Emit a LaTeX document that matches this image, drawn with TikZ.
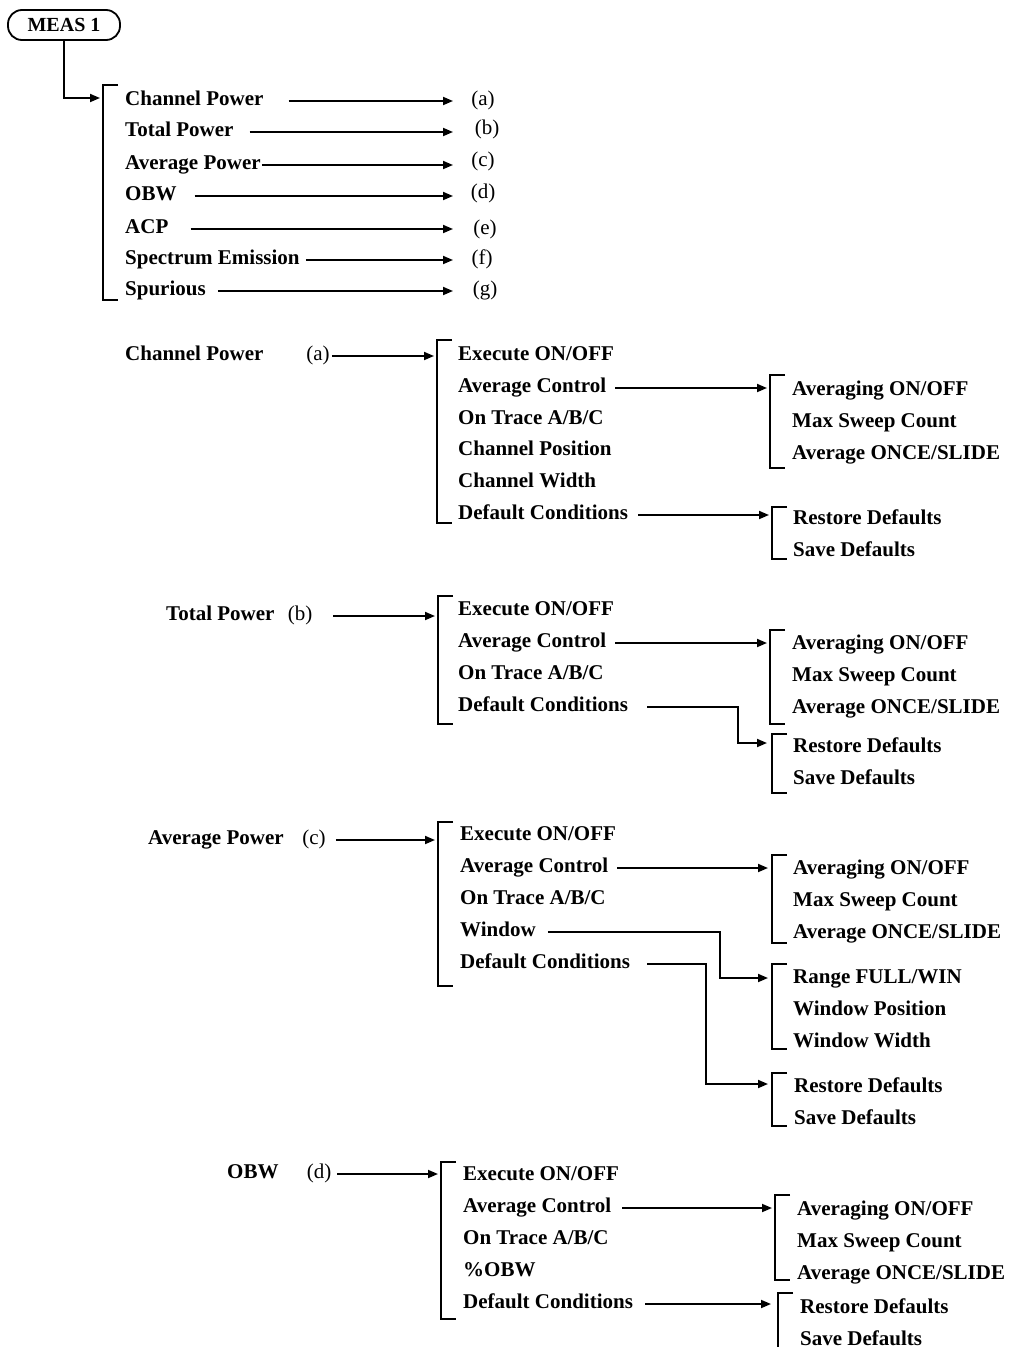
\documentclass[tikz,border=0pt]{standalone}
\usepackage{fontspec}
\setmainfont{Liberation Serif}
\usetikzlibrary{arrows.meta}
\tikzset{
 itm/.style={anchor=base west, inner sep=0pt, font=\fontsize{21}{25}\selectfont\bfseries, text height=14pt, text depth=6pt},
 lbl/.style={anchor=base, inner sep=0pt, font=\fontsize{21}{25}\selectfont, text height=14pt, text depth=6pt},
 arr/.style={line width=1.8pt, -{Triangle[length=10pt,width=8pt]}},
 brk/.style={line width=1.8pt},
}
\newcommand\brkt[3]{\draw[brk] (#1+15,#2) -- (#1,#2) -- (#1,#3) -- (#1+15,#3);}
\begin{document}
\begin{tikzpicture}[x=1pt,y=-1pt]
\useasboundingbox (0,0) rectangle (1013,1347);
\fill[white] (0,0) rectangle (1013,1347);

% ---------- top menu ----------
\node[draw, line width=1.8pt, rounded corners=14pt, minimum width=112pt, minimum height=30pt, inner sep=0pt,
      font=\fontsize{20}{24}\selectfont\bfseries] (meas) at (64,25) {MEAS 1};
\coordinate (m0) at (100,98);
\draw[arr] (meas.south) |- (m0);
\brkt{103}{85}{300}

\node[itm] (t1) at (125,105) {Channel Power};
\node[itm] (t2) at (125,136) {Total Power};
\node[itm] (t3) at (125,169) {Average Power};
\node[itm] (t4) at (125,200) {OBW};
\node[itm] (t5) at (125,233) {ACP};
\node[itm] (t6) at (125,264) {Spectrum Emission};
\node[itm] (t7) at (125,295) {Spurious};

\node[lbl] (l1) at (483,105) {(a)};
\node[lbl] (l2) at (487,134) {(b)};
\node[lbl] (l3) at (483,166) {(c)};
\node[lbl] (l4) at (483,198) {(d)};
\node[lbl] (l5) at (485,234) {(e)};
\node[lbl] (l6) at (482,264) {(f)};
\node[lbl] (l7) at (485,295) {(g)};

\coordinate (tip) at (453,0);
\draw[arr] ([xshift=25pt]t1.east) -- (t1.east -| tip);
\draw[arr] ([xshift=16pt]t2.east) -- (t2.east -| tip);
\draw[arr] ([xshift=1pt]t3.east) -- (t3.east -| tip);
\draw[arr] ([xshift=18pt]t4.east) -- (t4.east -| tip);
\draw[arr] ([xshift=22pt]t5.east) -- (t5.east -| tip);
\draw[arr] ([xshift=6pt]t6.east) -- (t6.east -| tip);
\draw[arr] ([xshift=12pt]t7.east) -- (t7.east -| tip);

% ---------- (a) Channel Power ----------
\node[itm] (ha) at (125,360) {Channel Power};
\node[lbl] (la) at (318,360) {(a)};
\coordinate (ka) at (434,0);
\draw[arr] ([xshift=2pt]la.east) -- (la.east -| ka);
\brkt{437}{340}{523}
\node[itm] (a1) at (458,360) {Execute ON/OFF};
\node[itm] (a2) at (458,392) {Average Control};
\node[itm] (a3) at (458,424) {On Trace A/B/C};
\node[itm] (a4) at (458,455) {Channel Position};
\node[itm] (a5) at (458,487) {Channel Width};
\node[itm] (a6) at (458,519) {Default Conditions};

\coordinate (ka1) at (767,0);
\draw[arr] ([xshift=9pt]a2.east) -- (a2.east -| ka1);
\brkt{770}{375}{468}
\node[itm] (a21) at (792,395) {Averaging ON/OFF};
\node[itm] (a22) at (792,427) {Max Sweep Count};
\node[itm] (a23) at (792,459) {Average ONCE/SLIDE};

\coordinate (ka2) at (769,0);
\draw[arr] ([xshift=10pt]a6.east) -- (a6.east -| ka2);
\brkt{772}{507}{559}
\node[itm] (a61) at (793,524) {Restore Defaults};
\node[itm] (a62) at (793,556) {Save Defaults};

% ---------- (b) Total Power ----------
\node[itm] (hb) at (166,620) {Total Power};
\node[lbl] (lb) at (300,620) {(b)};
\coordinate (kb) at (435,0);
\draw[arr] ([xshift=21pt]lb.east) -- (lb.east -| kb);
\brkt{438}{596}{724}
\node[itm] (b1) at (458,615) {Execute ON/OFF};
\node[itm] (b2) at (458,647) {Average Control};
\node[itm] (b3) at (458,679) {On Trace A/B/C};
\node[itm] (b4) at (458,711) {Default Conditions};

\coordinate (kb1) at (767,0);
\draw[arr] ([xshift=9pt]b2.east) -- (b2.east -| kb1);
\brkt{770}{630}{724}
\node[itm] (b21) at (792,649) {Averaging ON/OFF};
\node[itm] (b22) at (792,681) {Max Sweep Count};
\node[itm] (b23) at (792,713) {Average ONCE/SLIDE};

\coordinate (eb) at (738,743);
\coordinate (kb2) at (767,743);
\draw[arr] ([xshift=19pt]b4.east) -| (eb) -- (kb2);
\brkt{772}{734}{793}
\node[itm] (b41) at (793,752) {Restore Defaults};
\node[itm] (b42) at (793,784) {Save Defaults};

% ---------- (c) Average Power ----------
\node[itm] (hc) at (148,844) {Average Power};
\node[lbl] (lc) at (314,844) {(c)};
\coordinate (kc) at (435,0);
\draw[arr] ([xshift=10pt]lc.east) -- (lc.east -| kc);
\brkt{438}{822}{986}
\node[itm] (c1) at (460,840) {Execute ON/OFF};
\node[itm] (c2) at (460,872) {Average Control};
\node[itm] (c3) at (460,904) {On Trace A/B/C};
\node[itm] (c4) at (460,936) {Window};
\node[itm] (c5) at (460,968) {Default Conditions};

\coordinate (kc1) at (768,0);
\draw[arr] ([xshift=9pt]c2.east) -- (c2.east -| kc1);
\brkt{772}{855}{943}
\node[itm] (c21) at (793,874) {Averaging ON/OFF};
\node[itm] (c22) at (793,906) {Max Sweep Count};
\node[itm] (c23) at (793,938) {Average ONCE/SLIDE};

\coordinate (ec4) at (720,978);
\coordinate (kc4) at (768,978);
\draw[arr] ([xshift=12pt]c4.east) -| (ec4) -- (kc4);
\brkt{772}{964}{1049}
\node[itm] (c41) at (793,983) {Range FULL/WIN};
\node[itm] (c42) at (793,1015) {Window Position};
\node[itm] (c43) at (793,1047) {Window Width};

\coordinate (ec5) at (706,1084);
\coordinate (kc5) at (768,1084);
\draw[arr] ([xshift=17pt]c5.east) -| (ec5) -- (kc5);
\brkt{772}{1073}{1126}
\node[itm] (c51) at (794,1092) {Restore Defaults};
\node[itm] (c52) at (794,1124) {Save Defaults};

% ---------- (d) OBW ----------
\node[itm] (hd) at (227,1178) {OBW};
\node[lbl] (ld) at (319,1178) {(d)};
\coordinate (kd) at (438,0);
\draw[arr] ([xshift=6pt]ld.east) -- (ld.east -| kd);
\brkt{441}{1162}{1319}
\node[itm] (d1) at (463,1180) {Execute ON/OFF};
\node[itm] (d2) at (463,1212) {Average Control};
\node[itm] (d3) at (463,1244) {On Trace A/B/C};
\node[itm] (d4) at (463,1276) {\%OBW};
\node[itm] (d5) at (463,1308) {Default Conditions};

\coordinate (kd1) at (772,0);
\draw[arr] ([xshift=11pt]d2.east) -- (d2.east -| kd1);
\brkt{775}{1195}{1280}
\node[itm] (d21) at (797,1215) {Averaging ON/OFF};
\node[itm] (d22) at (797,1247) {Max Sweep Count};
\node[itm] (d23) at (797,1279) {Average ONCE/SLIDE};

\coordinate (kd5) at (771,0);
\draw[arr] ([xshift=12pt]d5.east) -- (d5.east -| kd5);
\draw[brk] (793,1293) -- (778,1293) -- (778,1347);
\node[itm] (d51) at (800,1313) {Restore Defaults};
\node[itm] (d52) at (800,1345) {Save Defaults};
\end{tikzpicture}
\end{document}
